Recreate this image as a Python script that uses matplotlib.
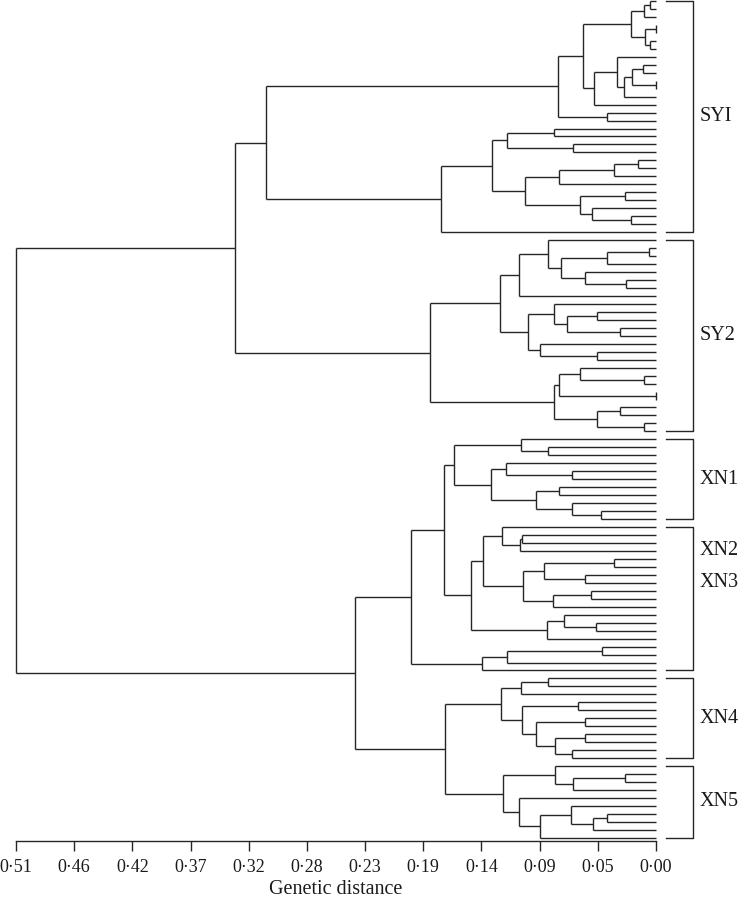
import re
import matplotlib
matplotlib.use("Agg")
import matplotlib.pyplot as plt

# ---------------- data ----------------
# Newick-like strings: '*' = accession (leaf), '(a,b)h' = merge at genetic distance h
sy1_tree = ("((((((*,*)0.0044,*)0.0092,((*,*)0,(*,*)0.0044)0.0084)0.0203,"
            "((*,(((*,*)0.0102,(*,*)0)0.0195,*)0.0257)0.0311,*)0.0496)0.0583,(*,*)0.0389)0.0782,"
            "((((*,*)0.0809,(*,*)0.0663)0.1191,((((*,*)0.0145,*)0.0336,*)0.0775,"
            "((*,*)0.0249,(*,(*,*)0.0198)0.0508)0.0607)0.1045)0.1305,*)0.1717)0.3104")
sy2_tree = ("((((*,(((*,*)0.0057,*)0.0394,(*,(*,*)0.0243)0.0562)0.0761)0.0862,*)0.1093,"
            "((*,((*,*)0.0474,(*,*)0.0288)0.0708)0.0814,(*,(*,*)0.0474)0.0926)0.1022)0.1247,"
            "(((*,(*,*)0.0097)0.0602,(*,*)0)0.0775,((*,*)0.0288,(*,*)0.0097)0.0474)0.0814)0.1797")
xn1_tree = ("((*,(*,*)0.0862)0.1074,((*,(*,*)0.0668)0.1199,"
            "((*,*)0.0775,(*,(*,*)0.0437)0.0668)0.0960)0.1311)0.1611")
xn2_tree = ("((*,((*,*)0.107,*)0.1085)0.1231,(((*,*)0.0336,(*,*)0.0567)0.0894,"
            "((*,*)0.0516,*)0.0819)0.1058)0.1377")
xn3a_tree = "((*,(*,*)0.0476)0.0735,*)0.0867"
xn3b_tree = "(((*,*)0.0429,*)0.1191,*)0.1385"
xn4_tree = ("(((*,*)0.0859,*)0.1074,((*,*)0.0623,((*,*)0.0567,"
            "((*,*)0.0567,(*,*)0.0668)0.0806)0.0960)0.1066)0.1235")
xn5_tree = ("((*,((*,*)0.0249,*)0.0660)0.0806,(*,((*,((*,*)0.0389,*)0.0500)0.0676,*)0.0926)0.1093)0.1218")

top_tree = ("((SY1,SY2)0.3351,(((XN1,(XN2,XN3a)0.1478)0.1691,XN3b)0.1956,"
            "(XN4,XN5)0.1685)0.2402)0.51")

subtrees = {"SY1": sy1_tree, "SY2": sy2_tree, "XN1": xn1_tree, "XN2": xn2_tree,
            "XN3a": xn3a_tree, "XN3b": xn3b_tree, "XN4": xn4_tree, "XN5": xn5_tree}

# bracket groups (number of accessions in each, top to bottom)
group_sizes = [30, 25, 11, 19, 11, 10]
group_labels = [["SYI"], ["SY2"], ["XN1"], ["XN2", "XN3"], ["XN4"], ["XN5"]]

tick_values = [0.51 * k / 11 for k in range(12)]
tick_labels = ["0·00", "0·05", "0·09", "0·14", "0·19", "0·23",
               "0·28", "0·32", "0·37", "0·42", "0·46", "0·51"]


# ---------------- parse ----------------
def parse(s, pos=0):
    if s[pos] == "(":
        pos += 1
        kids = []
        while True:
            child, pos = parse(s, pos)
            kids.append(child)
            if s[pos] == ",":
                pos += 1
            else:  # ')'
                pos += 1
                break
        m = re.match(r"[0-9.]+", s[pos:])
        return ("node", float(m.group()), kids), pos + m.end()
    if s[pos] == "*":
        return ("leaf",), pos + 1
    m = re.match(r"[A-Za-z_][A-Za-z0-9_]*", s[pos:])
    sub, _ = parse(subtrees[m.group()], 0)
    return sub, pos + m.end()


tree, _ = parse(top_tree)

# ---------------- figure ----------------
W, H = 740, 899
fig = plt.figure(figsize=(W / 100, H / 100), dpi=100)
spacing = 7.97
ax = fig.add_axes([16 / W, (H - 841) / H, 640 / W, 841 / H])
ax.set_xlim(0.51, 0.0)
ax.set_ylim((841 - 1) / spacing, -1 / spacing)

LC = "#262626"
TC = "#1a1a1a"
LW = 1.0
counter = [0]


def draw(node):
    if node[0] == "leaf":
        y = counter[0]
        counter[0] += 1
        return y, 0.0
    h = node[1]
    res = [draw(k) for k in node[2]]
    for (y, ch) in res:
        ax.plot([ch, h], [y, y], color=LC, lw=LW, clip_on=False, solid_capstyle="butt")
    ax.plot([h, h], [res[0][0], res[-1][0]], color=LC, lw=LW, clip_on=False,
            solid_capstyle="butt")
    return (res[0][0] + res[-1][0]) / 2, h


draw(tree)

# brackets
px = 1 / (640 / 0.51)  # distance units per pixel
bx0, bx1, lx = -10 * px, -37 * px, -44 * px
start = 0
label_offsets = {"XN2": -6.0, "XN3": -2.0}
for size, labs in zip(group_sizes, group_labels):
    y0, y1 = start, start + size - 1
    ax.plot([bx0, bx1, bx1, bx0], [y0, y0, y1, y1], color=LC, lw=LW, clip_on=False)
    mid = (y0 + y1) / 2
    for lab in labs:
        yy = mid + label_offsets.get(lab, 0.0)
        ax.text(lx, yy, lab, ha="left", va="center", fontsize=14.5,
                family="Liberation Serif", color=TC)
    start += size

for s in ["top", "right", "left"]:
    ax.spines[s].set_visible(False)
ax.spines["bottom"].set_color(LC)
ax.spines["bottom"].set_linewidth(LW)
ax.set_yticks([])
ax.set_xticks(tick_values)
ax.set_xticklabels(tick_labels, family="Liberation Serif", fontsize=13, color=TC)
ax.tick_params(axis="x", direction="out", length=7, width=LW, color=LC, pad=6)
ax.set_xlabel("Genetic distance", family="Liberation Serif", fontsize=14.5, color=TC,
              labelpad=3)

fig.savefig("out.png", dpi=100)
